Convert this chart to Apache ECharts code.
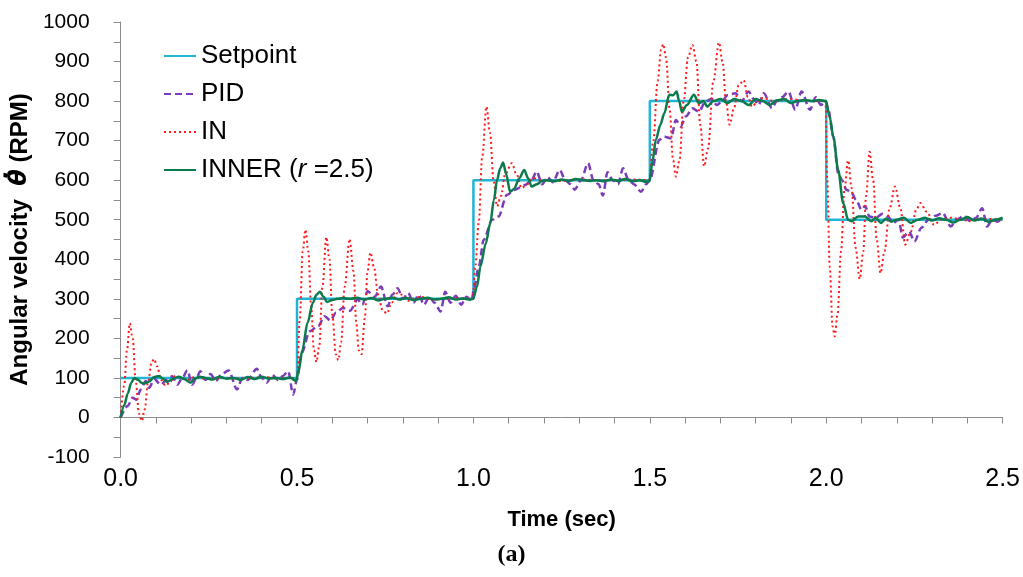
<!DOCTYPE html>
<html>
<head>
<meta charset="utf-8">
<script src="https://cdn.jsdelivr.net/npm/echarts@6/dist/echarts.min.js"></script>
<style>html,body{margin:0;padding:0;background:#fff}#c{width:1023px;height:577px}</style>
</head>
<body>
<div id="c"></div>
<script>
// ---- data (time in sec, angular velocity in RPM) ----
const seriesNames = ['Setpoint', 'PID', 'IN', 'INNER'];
const xTicks = [0.0, 0.5, 1.0, 1.5, 2.0, 2.5];
const yTicks = [-100, 0, 100, 200, 300, 400, 500, 600, 700, 800, 900, 1000];

const spT = [0, 0.5, 0.5, 1.0, 1.0, 1.5, 1.5, 2.0, 2.0, 2.5];
const spV = [100, 100, 300, 300, 600, 600, 800, 800, 500, 500];

const pidT = [0,0.02,0.034,0.045,0.057,0.071,0.081,0.095,0.114,0.13,0.146,0.161,0.175,0.189,0.203,0.215,0.226,0.24,0.255,0.27,0.285,0.306,0.33,0.345,0.36,0.386,0.40,0.414,0.43,0.445,0.46,0.475,0.489,0.50,
0.513,0.536,0.56,0.578,0.595,0.61,0.63,0.65,0.672,0.685,0.70,0.72,0.738,0.757,0.77,0.785,0.80,0.815,0.83,0.845,0.86,0.875,0.89,0.907,0.92,0.935,0.95,0.965,0.98,0.995,
1.001,1.015,1.029,1.053,1.071,1.095,1.118,1.146,1.165,1.179,1.195,1.21,1.225,1.245,1.26,1.275,1.287,1.305,1.325,1.34,1.355,1.367,1.38,1.395,1.41,1.424,1.44,1.455,1.475,1.49,1.5,
1.527,1.541,1.56,1.574,1.588,1.602,1.621,1.639,1.658,1.675,1.69,1.705,1.72,1.743,1.76,1.78,1.795,1.808,1.823,1.846,1.86,1.875,1.893,1.912,1.93,1.954,1.97,1.985,1.998,
2.006,2.02,2.034,2.045,2.057,2.07,2.085,2.1,2.11,2.123,2.14,2.16,2.175,2.19,2.205,2.217,2.235,2.25,2.27,2.29,2.31,2.33,2.353,2.37,2.39,2.41,2.425,2.442,2.456,2.47,2.485,2.5];
const pidV = [0,29,50,45,71,92,75,97,83,95,104,83,100,119,83,100,117,95,110,92,108,119,71,100,95,123,100,88,108,95,105,117,58,95,
163,218,231,256,245,265,277,270,298,285,319,305,331,281,310,327,300,315,290,310,285,305,290,268,318,290,308,285,305,295,
323,380,449,500,508,563,576,588,600,622,590,608,595,626,600,590,576,600,643,600,590,561,620,600,590,630,600,590,571,590,600,
702,710,706,752,736,761,782,773,799,806,790,800,815,820,800,824,805,790,820,782,800,810,824,778,824,778,810,790,800,
778,710,618,600,576,570,550,525,535,508,505,515,508,492,500,455,470,445,480,500,510,517,483,500,510,495,505,529,483,500,495,505];

const inT = [0,0.01,0.018,0.026,0.034,0.043,0.052,0.06,0.068,0.078,0.088,0.095,0.103,0.115,0.128,0.14,0.155,0.17,0.19,0.21,0.24,0.3,0.35,0.4,0.45,0.495,
0.5,0.508,0.516,0.524,0.532,0.54,0.548,0.555,0.563,0.572,0.583,0.592,0.60,0.61,0.617,0.625,0.635,0.649,0.66,0.668,0.675,0.683,0.692,0.70,0.708,0.718,0.73,0.743,0.755,0.768,0.785,0.80,0.815,0.83,0.85,0.88,0.92,0.96,0.998,
1.005,1.015,1.025,1.037,1.047,1.057,1.067,1.078,1.09,1.109,1.122,1.137,1.152,1.17,1.19,1.25,1.3,1.35,1.4,1.45,1.498,
1.51,1.522,1.532,1.538,1.546,1.556,1.566,1.574,1.584,1.596,1.608,1.621,1.632,1.643,1.654,1.665,1.68,1.696,1.706,1.716,1.726,1.738,1.752,1.766,1.778,1.79,1.805,1.82,1.85,1.9,1.95,1.998,
2.003,2.01,2.018,2.024,2.032,2.042,2.052,2.062,2.072,2.083,2.095,2.105,2.113,2.123,2.133,2.143,2.154,2.165,2.18,2.195,2.21,2.224,2.24,2.255,2.267,2.285,2.306,2.325,2.35,2.4,2.45,2.5];
const inV = [0,80,170,238,200,90,10,-9,20,90,140,148,130,95,80,90,105,100,95,102,98,100,98,102,100,100,
100,250,420,475,420,280,170,140,180,330,456,400,260,160,145,190,330,451,370,240,170,160,250,370,417,380,310,270,263,290,315,310,295,300,305,298,300,302,300,
380,492,660,786,720,600,534,560,615,643,615,580,590,605,600,598,602,600,600,602,600,
700,850,930,944,910,780,650,609,650,800,910,942,900,740,635,680,850,948,900,800,740,780,840,853,810,786,800,808,800,805,800,800,
600,380,230,205,260,420,580,650,580,430,350,420,560,672,600,450,365,420,530,584,530,437,470,525,542,520,487,500,505,498,502,500];

const innerT = [0,0.01,0.02,0.03,0.039,0.05,0.06,0.067,0.08,0.095,0.109,0.12,0.132,0.15,0.165,0.18,0.198,0.21,0.225,0.24,0.26,0.28,0.3,0.32,0.34,0.36,0.38,0.40,0.42,0.44,0.46,0.48,0.497,
0.505,0.515,0.53,0.545,0.555,0.565,0.575,0.585,0.6,0.615,0.63,0.65,0.67,0.69,0.71,0.73,0.75,0.77,0.79,0.81,0.83,0.85,0.87,0.89,0.91,0.93,0.95,0.97,0.99,0.999,
1.01,1.02,1.035,1.048,1.058,1.067,1.076,1.084,1.093,1.104,1.115,1.13,1.144,1.155,1.165,1.18,1.195,1.21,1.23,1.25,1.27,1.29,1.31,1.33,1.35,1.37,1.39,1.41,1.43,1.45,1.47,1.49,1.499,
1.508,1.517,1.53,1.541,1.555,1.566,1.576,1.583,1.591,1.605,1.625,1.639,1.652,1.663,1.68,1.70,1.72,1.74,1.76,1.78,1.80,1.82,1.84,1.86,1.88,1.90,1.92,1.94,1.96,1.98,1.999,
2.01,2.02,2.034,2.048,2.062,2.072,2.09,2.11,2.128,2.14,2.155,2.17,2.185,2.20,2.22,2.24,2.26,2.28,2.30,2.32,2.34,2.36,2.38,2.40,2.42,2.44,2.46,2.48,2.5];
const innerV = [0,30,60,88,100,95,87,86,90,102,105,98,90,98,103,97,88,98,103,100,96,103,98,100,95,102,97,103,98,100,97,101,92,
120,170,240,290,310,318,305,292,297,300,302,300,303,298,302,296,300,303,298,302,297,300,303,298,300,304,298,301,298,300,
330,382,440,492,550,601,630,645,615,571,578,605,626,605,584,590,598,600,597,602,598,603,600,598,600,597,602,598,603,597,600,596,597,
650,702,740,769,816,815,824,800,773,790,816,795,800,786,800,805,795,805,800,790,805,800,790,802,805,795,800,803,800,803,800,
760,710,626,542,500,496,508,508,496,505,492,503,495,500,505,492,500,505,498,504,500,493,500,507,498,503,495,500,505];

const zip = (t, v) => t.map((x, i) => [x, v[i]]);

const SANS = '"Liberation Sans", Arial, sans-serif';

const chart = echarts.init(document.getElementById('c'));
chart.setOption({
  animation: false,
  backgroundColor: '#ffffff',
  grid: { left: 117, right: 17, top: 22, bottom: 120 },
  legend: {
    orient: 'vertical', left: 158, top: 35, itemGap: 6,
    itemWidth: 32, itemHeight: 14,
    data: seriesNames,
    itemStyle: { opacity: 0 },
    textStyle: { fontFamily: SANS, fontSize: 26, color: '#000', lineHeight: 32,
      rich: { i: { fontFamily: SANS, fontSize: 26, fontStyle: 'italic', color: '#000' } } },
    formatter: n => n === 'INNER' ? 'INNER ({i|r} =2.5)' : n
  },
  xAxis: {
    type: 'value', min: 0, max: 2.5, interval: 0.1,
    name: 'Time (sec)', nameLocation: 'middle', nameGap: 52,
    nameTextStyle: { fontFamily: SANS, fontSize: 22, fontWeight: 'bold', color: '#000' },
    axisLine: { lineStyle: { color: '#8c8c8c', width: 1 } },
    axisTick: { show: true, inside: false, length: 6, lineStyle: { color: '#8c8c8c' } },
    axisLabel: {
      fontFamily: SANS, fontSize: 25, color: '#000', margin: 10,
      formatter: v => xTicks.some(t => Math.abs(t - v) < 1e-6) ? v.toFixed(1) : ''
    },
    splitLine: { show: false }
  },
  yAxis: {
    type: 'value', min: -100, max: 1000, interval: 50,
    name: 'Angular velocity  {t|θ\u0307} (RPM)', nameLocation: 'middle', nameGap: 74,
    nameTextStyle: { fontFamily: SANS, fontSize: 24, fontWeight: 'bold', color: '#000',
      rich: { t: { fontFamily: '"DejaVu Sans", sans-serif', fontSize: 24, fontWeight: 'bold', fontStyle: 'italic', color: '#000' } } },
    axisLine: { show: true, lineStyle: { color: '#8c8c8c', width: 1 } },
    axisTick: { show: true, inside: false, length: 7, lineStyle: { color: '#8c8c8c' } },
    axisLabel: { fontFamily: SANS, fontSize: 21, color: '#000', margin: 31, showMinLabel: true, showMaxLabel: true,
      formatter: v => yTicks.indexOf(Math.round(v)) >= 0 ? String(Math.round(v)) : '' },
    splitLine: { show: false }
  },
  series: [
    { name: 'Setpoint', type: 'line', data: zip(spT, spV), symbol: 'none', z: 2,
      lineStyle: { color: '#22b4d4', width: 2.5 }, itemStyle: { color: '#22b4d4' } },
    { name: 'PID', type: 'line', data: zip(pidT, pidV), symbol: 'none', smooth: 0.3, smoothMonotone: 'x', z: 3,
      lineStyle: { color: '#7b3cb8', width: 2.5, type: [7, 4] }, itemStyle: { color: '#7b3cb8' } },
    { name: 'IN', type: 'line', data: zip(inT, inV), symbol: 'none', smooth: 0.35, smoothMonotone: 'x', z: 4,
      lineStyle: { color: '#ff1a1a', width: 2, type: [2, 3] }, itemStyle: { color: '#ff1a1a' } },
    { name: 'INNER', type: 'line', data: zip(innerT, innerV), symbol: 'none', smooth: 0.3, smoothMonotone: 'x', z: 5,
      lineStyle: { color: '#0b7a4c', width: 2.5 }, itemStyle: { color: '#0b7a4c' } }
  ],
  graphic: [
    { type: 'text', left: 'center', top: 543,
      style: { text: '(a)', font: 'bold 24px "Liberation Serif", "DejaVu Serif", serif', fill: '#000' } }
  ]
});
</script>
</body>
</html>
